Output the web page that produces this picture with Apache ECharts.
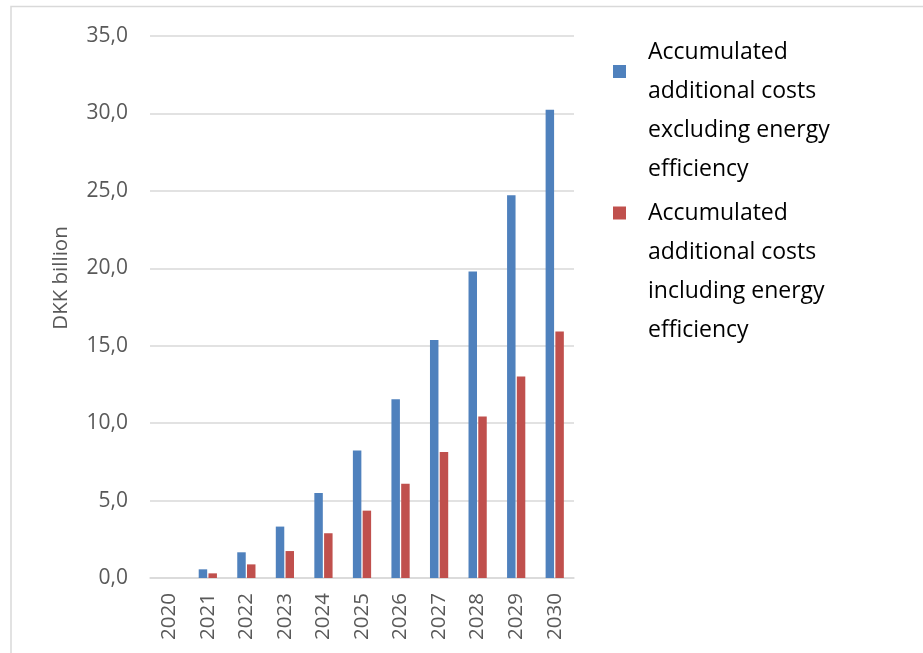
<!DOCTYPE html>
<html>
<head>
<meta charset="utf-8">
<style>
  html, body { margin: 0; padding: 0; background: #ffffff; }
  #chart { width: 923px; height: 653px; }
</style>
<script src="https://cdn.jsdelivr.net/npm/echarts@6/dist/echarts.min.js"></script>
</head>
<body>
<div id="chart"></div>
<script>
// Years on the category axis
const years = ['2020', '2021', '2022', '2023', '2024', '2025', '2026', '2027', '2028', '2029', '2030'];

// Accumulated additional costs, DKK billion
const costsExclEfficiency = [0, 0.56, 1.66, 3.32, 5.49, 8.24, 11.54, 15.37, 19.8, 24.71, 30.23];
const costsInclEfficiency = [0, 0.30, 0.88, 1.74, 2.89, 4.35, 6.09, 8.13, 10.43, 13.02, 15.92];

const seriesNames = [
  'Accumulated additional costs excluding energy efficiency',
  'Accumulated additional costs including energy efficiency'
];
const legendLines = [
  ['Accumulated', 'additional costs', 'excluding energy', 'efficiency'],
  ['Accumulated', 'additional costs', 'including energy', 'efficiency']
];

const FONT = '"Open Sans", "Liberation Sans", sans-serif';
const GREY_TEXT = '#595959';
const GRID_LINE = '#d9d9d9';

const chart = echarts.init(document.getElementById('chart'), null, { renderer: 'canvas' });

// One legend per series; leading empty lines set where the swatch sits
// against the wrapped label.
function legendFor(index, top, leadLines) {
  const text = '\n'.repeat(leadLines) + legendLines[index].join('\n');
  return {
    orient: 'vertical',
    left: 613,
    top: top,
    padding: 0,
    itemWidth: 13,
    itemHeight: 13,
    icon: 'rect',
    selectedMode: false,
    data: [seriesNames[index]],
    formatter: () => text,
    textStyle: {
      fontFamily: FONT,
      fontSize: 23,
      lineHeight: 39,
      color: '#000000',
      padding: [0, 0, 0, 17]
    }
  };
}

chart.setOption({
  animation: false,
  backgroundColor: '#ffffff',
  textStyle: { fontFamily: FONT },
  graphic: [{
    type: 'rect',
    shape: { x: 11, y: 6.5, width: 2000, height: 2000 },
    style: { fill: 'none', stroke: GRID_LINE, lineWidth: 1.5 },
    silent: true,
    z: -10
  }],
  grid: { left: 150, right: 349, top: 36, bottom: 75, containLabel: false },
  legend: [
    legendFor(0, -45.5, 2),
    legendFor(1, 76.5, 3)
  ],
  xAxis: {
    type: 'category',
    data: years,
    axisLine: { show: true, lineStyle: { color: GRID_LINE, width: 1.5 } },
    axisTick: { show: false },
    axisLabel: {
      rotate: 90,
      margin: 15,
      color: GREY_TEXT,
      fontFamily: FONT,
      fontSize: 20.5,
      interval: 0
    }
  },
  yAxis: {
    type: 'value',
    min: 0,
    max: 35,
    interval: 5,
    name: 'DKK billion',
    nameLocation: 'middle',
    nameRotate: 90,
    nameGap: 78,
    nameTextStyle: {
      color: GREY_TEXT,
      fontFamily: FONT,
      fontSize: 20.5,
      padding: [0, 0, 0, 58]
    },
    axisLine: { show: false },
    axisTick: { show: false },
    axisLabel: {
      margin: 22,
      color: GREY_TEXT,
      fontFamily: FONT,
      fontSize: 21,
      formatter: v => v.toFixed(1).replace('.', ',')
    },
    splitLine: { lineStyle: { color: GRID_LINE, width: 1.5 } }
  },
  series: [
    {
      name: seriesNames[0],
      type: 'bar',
      data: costsExclEfficiency,
      barWidth: '22%',
      barGap: '15%',
      itemStyle: { color: '#4f81bd' }
    },
    {
      name: seriesNames[1],
      type: 'bar',
      data: costsInclEfficiency,
      barWidth: '22%',
      barGap: '15%',
      itemStyle: { color: '#c0504d' }
    }
  ]
});
</script>
</body>
</html>
